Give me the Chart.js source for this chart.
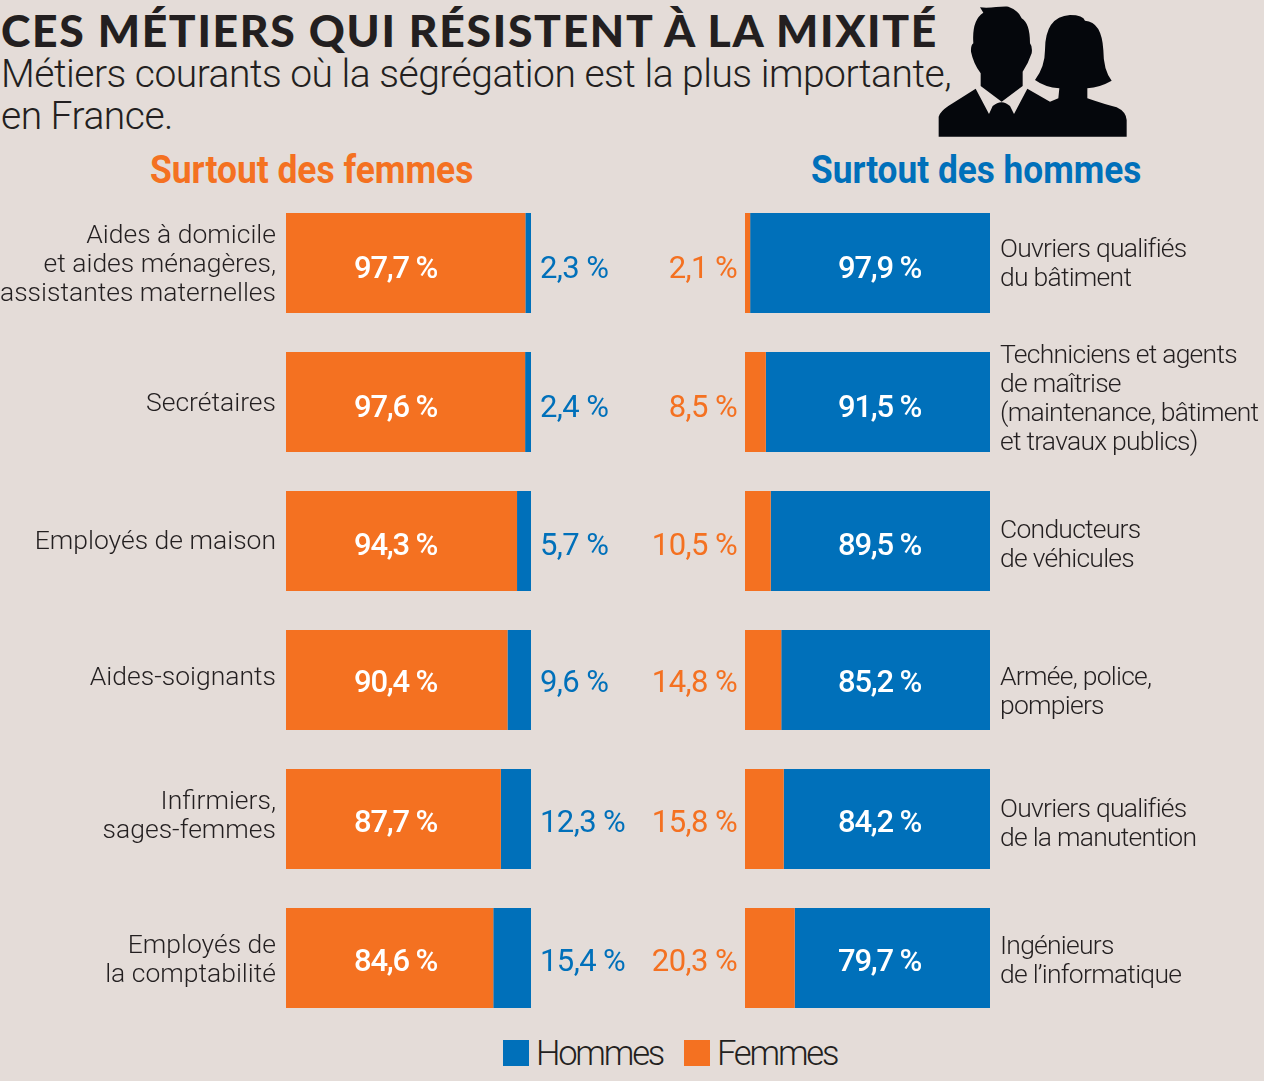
<!DOCTYPE html>
<html lang="fr"><head><meta charset="utf-8">
<script src="https://cdn.jsdelivr.net/npm/chart.js@4"></script>
<style>
html,body{margin:0;padding:0;background:#e4dcd8;width:1264px;height:1081px;overflow:hidden}
body{position:relative;color:#231f20;font-family:Roboto,sans-serif}
.t{position:absolute;white-space:nowrap;line-height:1;transform-origin:0 0}
canvas{position:absolute}
#lc{left:0;top:193px}
#rc{left:640px;top:193px}
.sw{position:absolute;width:26px;height:26px;top:1040px}
</style></head><body>
<div class="t" id="title" style="left:1px;top:3px;font:900 44.5px Lato;letter-spacing:1.67px">CES MÉTIERS QUI RÉSISTENT À LA MIXITÉ</div>
<div class="t" id="sub1" style="left:1px;top:51px;font:300 39px Roboto;letter-spacing:-.5px">Métiers courants où la ségrégation est la plus importante,</div>
<div class="t" id="sub2" style="left:1px;top:93px;font:300 39px Roboto;letter-spacing:-.5px">en France.</div>
<div class="t" style="left:150px;top:147px;font:700 39px Roboto;color:#f47121;transform:scaleX(.907)">Surtout des femmes</div>
<div class="t" style="left:811px;top:147px;font:700 39px Roboto;color:#0070ba;transform:scaleX(.903)">Surtout des hommes</div>
<svg style="position:absolute;left:920px;top:0" width="220" height="150" viewBox="0 0 660 450" aria-hidden="true">
<path fill="#05070c" d="M180 22 C210 26 240 18 265 20 Q295 30 305 55 Q330 70 330 130 Q338 140 335 160 Q325 190 308 215 L308 258 L245 305 L182 258 L182 220 Q160 190 153 155 Q152 135 160 130 Q155 60 190 38 Z"/>
<path fill="#05070c" d="M56 410 L56 350 Q60 335 85 318 L167 266 L207 342 L218 318 Q245 295 270 318 L282 342 L322 266 L390 305 L415 295 L418 265 Q375 262 345 240 Q375 200 375 150 Q375 50 450 45 Q490 45 495 62 Q545 65 550 150 Q550 210 575 242 Q540 262 502 265 L502 295 Q560 315 590 322 Q618 335 620 360 L620 410 Z"/>
</svg>
<canvas id="lc" width="640" height="835" style="width:640px;height:835px"></canvas>
<canvas id="rc" width="624" height="835" style="width:624px;height:835px"></canvas>
<div class="sw" style="left:503px;background:#0070ba"></div>
<div class="t" style="left:536px;top:1033px;font:300 34.5px Roboto;letter-spacing:-2.2px">Hommes</div>
<div class="sw" style="left:684px;background:#f47121"></div>
<div class="t" style="left:717px;top:1033px;font:300 34.5px Roboto;letter-spacing:-2.2px">Femmes</div>
<script>
const ORANGE='#f47121', BLUE='#0070ba', INK='#231f20';
const leftJobs=[["Aides à domicile","et aides ménagères,","assistantes maternelles"],"Secrétaires","Employés de maison","Aides-soignants",["Infirmiers,","sages-femmes"],["Employés de","la comptabilité"]];
const leftWomen=[97.7,97.6,94.3,90.4,87.7,84.6];
const leftMen=[2.3,2.4,5.7,9.6,12.3,15.4];
const rightJobs=[["Ouvriers qualifiés","du bâtiment"],["Techniciens et agents","de maîtrise","(maintenance, bâtiment","et travaux publics)"],["Conducteurs","de véhicules"],["Armée, police,","pompiers"],["Ouvriers qualifiés","de la manutention"],["Ingénieurs","de l’informatique"]];
const rightWomen=[2.1,8.5,10.5,14.8,15.8,20.3];
const rightMen=[97.9,91.5,89.5,85.2,84.2,79.7];

const fr=v=>v.toFixed(1).replace('.',',')+' %';
function valueLabels(bigIdx,smallIdx,bigX,smallX,smallAlign,tickSpacing,tickNudge){
  const valueNudge=[7,7,6,4,5,5];
  return {id:'valueLabels',
  beforeDraw(c){
    c.ctx.letterSpacing=tickSpacing;
    const s=c.scales.y;
    s.getLabelItems(c.chartArea).forEach((it,i)=>{it.options.translation[1]+=tickNudge[i]});
  },
  afterDatasetsDraw(c){
    const g=c.ctx,a=c.chartArea;
    g.save();g.textBaseline='middle';
    c.getDatasetMeta(bigIdx).data.forEach((b,i)=>{
      const y=b.y+valueNudge[i];
      g.letterSpacing='-1.2px';
      g.font='500 31px Roboto';g.fillStyle='#fff';g.textAlign='left';
      g.fillText(fr(c.data.datasets[bigIdx].data[i]),a.left+bigX,y);
      g.letterSpacing='-0.6px';
      g.font='400 31px Roboto';g.fillStyle=c.data.datasets[smallIdx].backgroundColor;g.textAlign=smallAlign;
      g.fillText(fr(c.data.datasets[smallIdx].data[i]),smallAlign==='left'?a.right+smallX:a.left-smallX,y);
    });
    g.restore();
  }};
}
function make(id,labels,women,men,pos,width,padding,plugin){
  return new Chart(document.getElementById(id),{
    type:'bar',
    data:{labels,datasets:[
      {label:'Femmes',data:women,backgroundColor:ORANGE,borderWidth:0},
      {label:'Hommes',data:men,backgroundColor:BLUE,borderWidth:0}]},
    options:{indexAxis:'y',responsive:false,animation:false,
      layout:{padding},
      categoryPercentage:1,barPercentage:100/139,
      plugins:{legend:{display:false},tooltip:{enabled:false}},
      scales:{
        x:{display:false,stacked:true,min:0,max:100},
        y:{stacked:true,position:pos,
          afterFit(s){s.width=width;s.paddingTop=0;s.paddingBottom=0},
          grid:{display:false,drawTicks:false},border:{display:false},
          ticks:{padding:10,autoSkip:false,color:INK,font:{family:'Roboto',weight:'300',size:26.5,lineHeight:1.095}}}
      }},
    plugins:[plugin]});
}
make('lc',leftJobs,leftWomen,leftMen,'left',286,{top:.5,bottom:.5,right:109},valueLabels(0,1,68,9,'left','0px',[2,2,1,-2,-2,3]));
make('rc',rightJobs,rightWomen,rightMen,'right',274,{top:.5,bottom:.5,left:105},valueLabels(1,0,93,8,'right','-0.75px',[2,-2,5,13,6,4]));
</script>
</body></html>
